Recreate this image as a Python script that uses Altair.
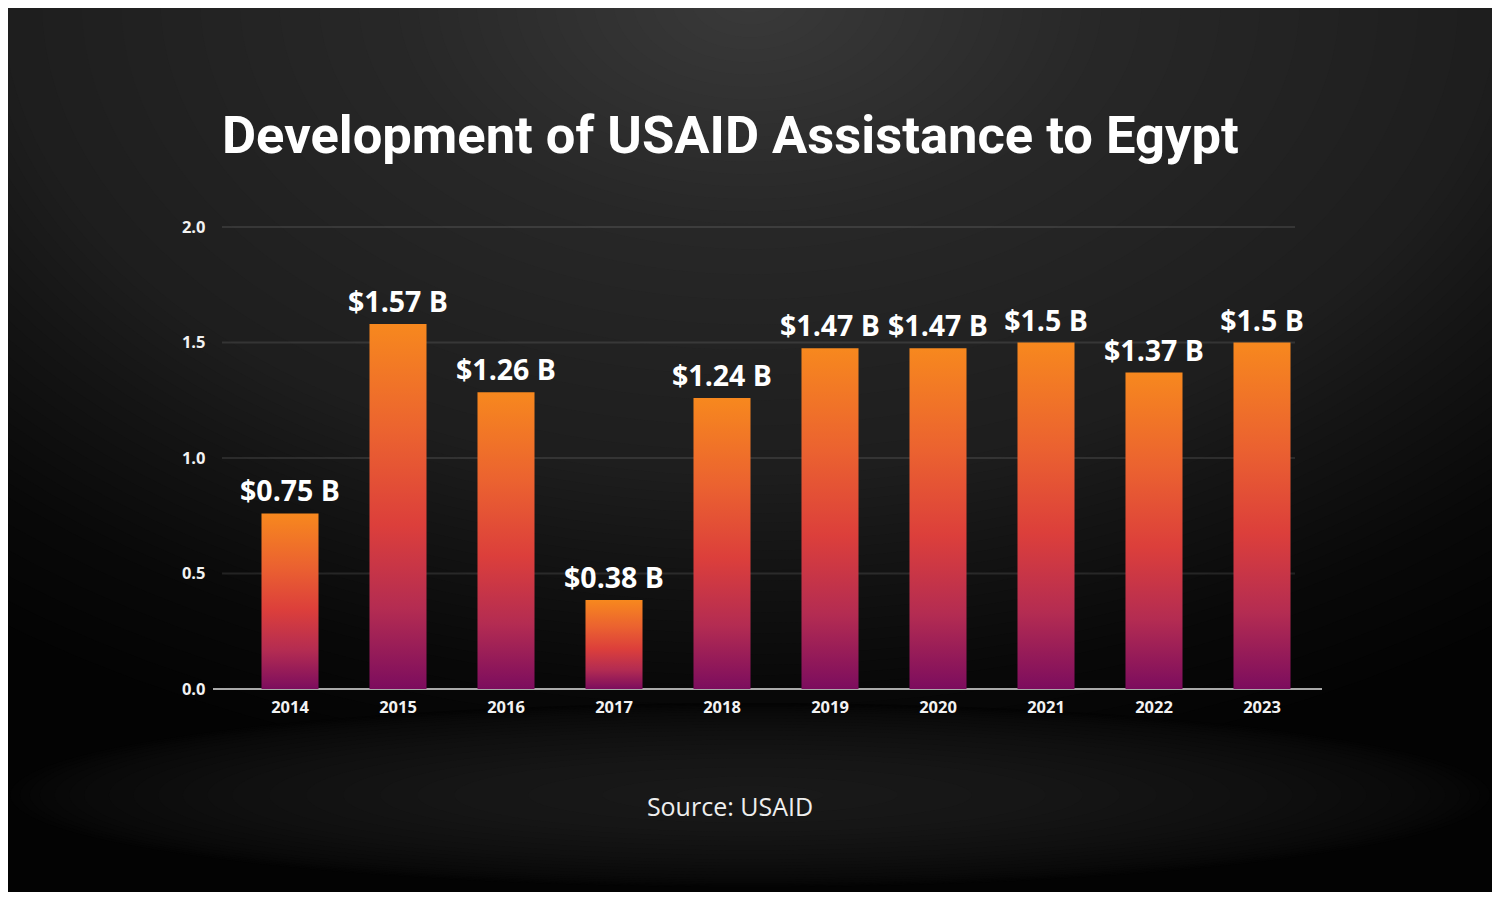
import math
import numpy as np
import altair as alt
import pandas as pd

years = ["2014", "2015", "2016", "2017", "2018", "2019", "2020", "2021", "2022", "2023"]
bar_heights = [0.76, 1.58, 1.285, 0.385, 1.26, 1.475, 1.475, 1.50, 1.37, 1.50]
bar_labels = ["$0.75 B", "$1.57 B", "$1.26 B", "$0.38 B", "$1.24 B",
              "$1.47 B", "$1.47 B", "$1.5 B", "$1.37 B", "$1.5 B"]
y_ticks = [0.0, 0.5, 1.0, 1.5, 2.0]
grid_values = [0.5, 1.0, 1.5, 2.0]
title_text = "Development of USAID Assistance to Egypt"
source_text = "Source: USAID"

W, H = 1109, 462
PAD = {"left": 205, "top": 219, "right": 170, "bottom": 203}
OX, OY = 213, 227  # page position of the plot origin

df = pd.DataFrame({"year": years, "value": bar_heights, "label": bar_labels})
grid_df = pd.DataFrame({"g": grid_values})
one = alt.Data(values=[{}])

LABEL_FONT = "Open Sans"


def ellipse_path(aspect, n=120):
    pts = []
    for i in range(n):
        t = 2 * math.pi * i / n
        pts.append(f"{math.cos(t):.4f},{aspect * math.sin(t):.4f}")
    return "M" + " L".join(pts) + " Z"


def glow_layers(cx, cy, rx, ry, rho_pts, level_pts, levels):
    """Concentric opaque ellipses approximating a soft elliptical glow."""
    shape = ellipse_path(ry / rx)
    out = []
    for L in levels:
        rho = float(np.interp(L, level_pts[::-1], rho_pts[::-1]))
        if rho <= 0:
            continue
        size = (2 * rx * rho) ** 2
        col = "#%02x%02x%02x" % (int(L), int(L), int(L))
        out.append(
            alt.Chart(one).mark_point(
                shape=shape, filled=True, size=size, color=col, opacity=1, strokeWidth=0
            ).encode(x=alt.value(cx - OX), y=alt.value(cy - OY))
        )
    return out


# top radial glow (ellipse centred at top middle of the page)
top_rho = [0.0, 0.32, 0.68, 0.80, 0.98, 1.12]
top_lvl = [58, 40, 30, 21, 9, 4]
top_glow = glow_layers(750, 0, 1100, 700, top_rho, top_lvl, list(range(4, 59)))

# bottom elliptical glow behind the source line
bot_rho = [0.0, 0.4, 0.7, 0.9, 0.96, 1.0]
bot_lvl = [26, 22, 16, 10, 7, 4]
bot_glow = glow_layers(750, 795, 740, 92, bot_rho, bot_lvl, list(range(4, 27)))

x_enc = alt.X(
    "year:N", sort=years,
    scale=alt.Scale(range=[23, 1103], paddingInner=0.472, paddingOuter=0.236),
    axis=alt.Axis(title=None, labelAngle=0, domain=False, ticks=False, labelPadding=10,
                  labelFont=LABEL_FONT, labelFontSize=16.5, labelFontWeight="bold",
                  labelColor="#f2f2f2", zindex=1),
)
y_enc = alt.Y(
    "value:Q",
    scale=alt.Scale(domain=[0, 2], nice=False),
    axis=alt.Axis(title=None, values=y_ticks, format=".1f", grid=False, domain=False,
                  ticks=False, labelPadding=8, labelFont=LABEL_FONT, labelFontSize=16.5,
                  labelFontWeight="bold", labelColor="#f2f2f2", zindex=1),
)

grid = alt.Chart(grid_df).mark_rule(color="#ffffff", opacity=0.1, strokeWidth=2).encode(
    y=alt.Y("g:Q"), x=alt.value(9), x2=alt.value(1082)
)

baseline = alt.Chart(one).mark_rule(color="#e0e0e0", strokeWidth=1.5).encode(
    y=alt.datum(0), x=alt.value(0), x2=alt.value(W)
)

bars = alt.Chart(df).mark_bar(
    fill=alt.LinearGradient(
        gradient="linear", x1=0, x2=0, y1=0, y2=1,
        stops=[alt.GradientStop(color="#F7881E", offset=0),
               alt.GradientStop(color="#EB6230", offset=0.3),
               alt.GradientStop(color="#DC3F3B", offset=0.55),
               alt.GradientStop(color="#B42C52", offset=0.78),
               alt.GradientStop(color="#7C0D5E", offset=1)],
    )
).encode(x=x_enc, y=y_enc)

labels = alt.Chart(df).mark_text(
    font=LABEL_FONT, fontWeight="bold", fontSize=28.5, color="#ffffff",
    baseline="alphabetic", dy=-12,
).encode(x=alt.X("year:N", sort=years), y=alt.Y("value:Q"), text="label:N")

title = alt.Chart(one).mark_text(
    text=title_text, font="Roboto", fontWeight="bold", fontSize=52.5,
    color="#ffffff", align="left", baseline="alphabetic",
).encode(x=alt.value(9), y=alt.value(-74))

source = alt.Chart(one).mark_text(
    text=source_text, font=LABEL_FONT, fontSize=25, color="#eeeeee",
    align="center", baseline="alphabetic",
).encode(x=alt.value(517), y=alt.value(589))

chart = alt.layer(
    *top_glow, *bot_glow, grid, baseline, bars, labels, title, source
).properties(
    width=W, height=H, padding=PAD,
    autosize=alt.AutoSizeParams(type="none"),
    background="#030303",
).configure_view(stroke=None)

chart.save("out.html", embed_options={"renderer": "svg", "actions": False})
